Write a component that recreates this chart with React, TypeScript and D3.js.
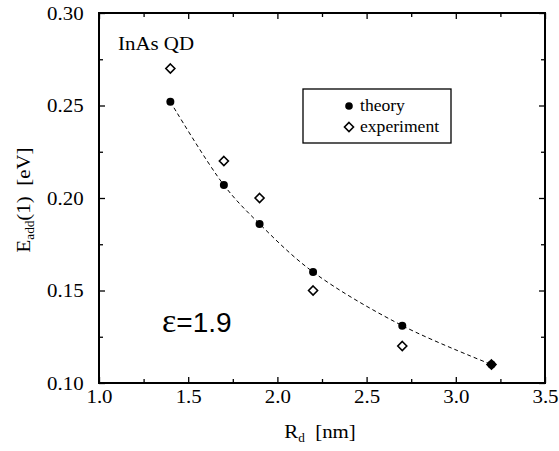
import React, { useEffect, useRef } from 'react';
import * as d3 from 'd3';

// R_d values (nm) shared by both series
const radii = [1.4, 1.7, 1.9, 2.2, 2.7, 3.2];
const theory = [0.252, 0.207, 0.186, 0.160, 0.131, 0.110];
const experiment = [0.270, 0.220, 0.200, 0.150, 0.120, 0.110];

const xTicks = [1.0, 1.5, 2.0, 2.5, 3.0, 3.5];
const xMinor = [1.25, 1.75, 2.25, 2.75, 3.25];
const yTicks = [0.10, 0.15, 0.20, 0.25, 0.30];
const yMinor = [0.125, 0.175, 0.225, 0.275];

const W = 559, H = 451;
const serif = 'Liberation Serif';
const sans = 'Liberation Sans';
const stretch = 1.1;

export default function App() {
  const ref = useRef<SVGSVGElement>(null);

  useEffect(() => {
    const svg = d3.select(ref.current);
    svg.selectAll('*').remove();

    const left = 99, right = 545, top = 13, bottom = 383;
    const x = d3.scaleLinear().domain([1.0, 3.5]).range([left, right]);
    const y = d3.scaleLinear().domain([0.10, 0.30]).range([bottom, top]);

    const fmtX = (d: any) => d3.format('.1f')(d);
    const fmtY = (d: any) => d3.format('.2f')(d);

    // major + minor ticks on all four sides, pointing in
    const axes = [
      { ax: d3.axisBottom(x).tickValues(xTicks).tickSize(-6).tickPadding(7).tickFormat(fmtX), t: `translate(0,${bottom})` },
      { ax: d3.axisBottom(x).tickValues(xMinor).tickSize(-4).tickFormat(() => ''), t: `translate(0,${bottom})` },
      { ax: d3.axisTop(x).tickValues(xTicks).tickSize(-6).tickFormat(() => ''), t: `translate(0,${top})` },
      { ax: d3.axisTop(x).tickValues(xMinor).tickSize(-4).tickFormat(() => ''), t: `translate(0,${top})` },
      { ax: d3.axisLeft(y).tickValues(yTicks).tickSize(-6).tickPadding(14).tickFormat(fmtY), t: `translate(${left},0)` },
      { ax: d3.axisLeft(y).tickValues(yMinor).tickSize(-4).tickFormat(() => ''), t: `translate(${left},0)` },
      { ax: d3.axisRight(y).tickValues(yTicks).tickSize(-6).tickFormat(() => ''), t: `translate(${right},0)` },
      { ax: d3.axisRight(y).tickValues(yMinor).tickSize(-4).tickFormat(() => ''), t: `translate(${right},0)` },
    ];
    axes.forEach(a => {
      const g = svg.append('g').attr('transform', a.t).call(a.ax as any);
      g.attr('font-family', serif).attr('font-size', 19);
      g.select('.domain').remove();
      g.selectAll('line').attr('stroke', '#000').attr('stroke-width', 1.3);
      g.selectAll('text')
        .attr('fill', '#000')
        .attr('transform', `scale(${stretch},1)`);
    });

    svg.append('rect')
      .attr('x', left).attr('y', top)
      .attr('width', right - left).attr('height', bottom - top)
      .attr('fill', 'none').attr('stroke', '#000').attr('stroke-width', 2);

    // dashed guide through the theory points
    const pts = radii.map((r, i) => [r, theory[i]] as [number, number]);
    const line = d3.line<[number, number]>()
      .x(d => x(d[0])).y(d => y(d[1]))
      .curve(d3.curveCatmullRom);
    svg.append('path')
      .attr('d', line(pts))
      .attr('fill', 'none')
      .attr('stroke', '#000')
      .attr('stroke-width', 1)
      .attr('stroke-dasharray', '4,3');

    const diamond = (s: number) => `M0,${-s}L${s},0L0,${s}L${-s},0Z`;

    svg.append('g').selectAll('path')
      .data(radii)
      .enter()
      .append('path')
      .attr('d', diamond(4.5))
      .attr('transform', (d, i) => `translate(${x(d)},${y(experiment[i])})`)
      .attr('fill', '#fff')
      .attr('stroke', '#000')
      .attr('stroke-width', 1.6);

    svg.append('g').selectAll('circle')
      .data(radii)
      .enter()
      .append('circle')
      .attr('cx', d => x(d))
      .attr('cy', (d, i) => y(theory[i]))
      .attr('r', 4)
      .attr('fill', '#000');

    // legend
    const lg = svg.append('g');
    lg.append('rect')
      .attr('x', 303).attr('y', 89).attr('width', 148).attr('height', 54)
      .attr('fill', '#fff').attr('stroke', '#000').attr('stroke-width', 1.3);
    lg.append('circle').attr('cx', 349).attr('cy', 106).attr('r', 3.8).attr('fill', '#000');
    lg.append('path').attr('d', diamond(4.5)).attr('transform', 'translate(349,127)')
      .attr('fill', '#fff').attr('stroke', '#000').attr('stroke-width', 1.6);

    const label = (tx: number, ty: number, s: string, size: number) =>
      svg.append('g').attr('transform', `translate(${tx},${ty}) scale(${stretch},1)`)
        .append('text')
        .attr('font-family', serif).attr('font-size', size).attr('fill', '#000')
        .text(s);

    label(360, 111, 'theory', 16);
    label(360, 132, 'experiment', 16);
    label(118, 50, 'InAs QD', 19);

    // epsilon annotation
    const eps = svg.append('text')
      .attr('x', 162).attr('y', 332)
      .attr('font-family', sans)
      .attr('font-size', 28).attr('fill', '#000');
    eps.append('tspan').attr('font-family', serif).attr('font-size', 34).text('ε');
    eps.append('tspan').text('=1.9');

    // x axis title
    const xt = svg.append('g').attr('transform', `translate(320,438) scale(${stretch},1)`)
      .append('text')
      .attr('text-anchor', 'middle')
      .attr('font-family', serif).attr('font-size', 19).attr('fill', '#000');
    xt.append('tspan').text('R');
    xt.append('tspan').attr('font-size', 12).attr('dy', 4).text('d');
    xt.append('tspan').attr('dy', -4).text('\u00A0\u00A0[nm]');

    // y axis title
    const yt = svg.append('g').attr('transform', `translate(30,200) rotate(-90) scale(${stretch},1)`)
      .append('text')
      .attr('text-anchor', 'middle')
      .attr('font-family', serif).attr('font-size', 19).attr('fill', '#000');
    yt.append('tspan').text('E');
    yt.append('tspan').attr('font-size', 12).attr('dy', 4).text('add');
    yt.append('tspan').attr('dy', -4).text('(1)\u00A0\u00A0[eV]');
  }, []);

  return <svg ref={ref} width={W} height={H}
              style={{ position: 'absolute', left: 0, top: 0, background: '#fff' }} />;
}
